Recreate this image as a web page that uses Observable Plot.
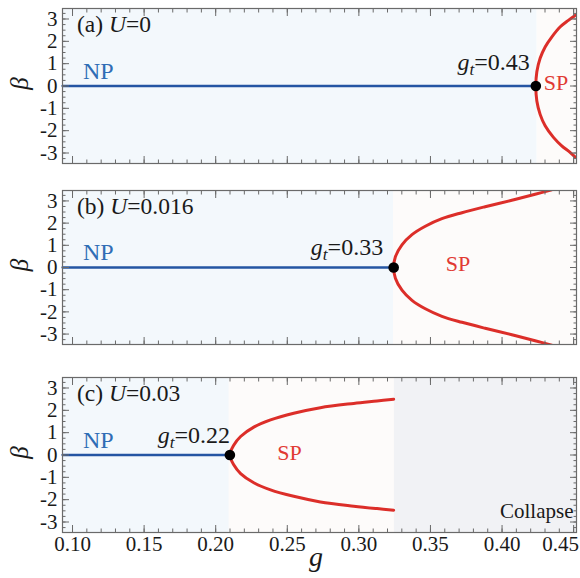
<!DOCTYPE html>
<html><head><meta charset="utf-8">
<script src="https://cdn.jsdelivr.net/npm/d3@7"></script>
<script src="https://cdn.jsdelivr.net/npm/@observablehq/plot@0.6"></script>
<style>
body{margin:0;background:#fff;}
#chart{position:relative;width:580px;height:578px;}
#chart svg{position:absolute;left:0;}
</style></head><body><div id="chart"></div>
<script>
// ---------- data ----------
const gDomain = [0.093, 0.452];
const betaDomain = [-3.47, 3.47];
const panelTags = ["(a)", "(b)", "(c)"];
const uValues = ["0", "0.016", "0.03"];
const gtText = ["0.43", "0.33", "0.22"];
const gtPoint = [0.4236, 0.3243, 0.2099];
const npEnd = [0.4245, 0.3243, 0.2095];
const collapseStart = 0.3248;

const xMajor = [0.10, 0.15, 0.20, 0.25, 0.30, 0.35, 0.40, 0.45];
const xMajorLabels = ["0.10", "0.15", "0.20", "0.25", "0.30", "0.35", "0.40", "0.45"];
const yMajor = [-3, -2, -1, 0, 1, 2, 3];
const yMajorLabels = ["-3", "-2", "-1", "0", "1", "2", "3"];

// SP branches (upper and lower)
const aUpperG = [0.4236, 0.4243, 0.4266, 0.4301, 0.4347, 0.4405, 0.4463, 0.4510];
const aUpperB = [0, 0.64, 1.24, 1.75, 2.19, 2.64, 2.94, 3.16];
const aLowerG = [0.4236, 0.4243, 0.4266, 0.4301, 0.4359, 0.4417, 0.4475, 0.4510];
const aLowerB = [0, -0.67, -1.27, -1.78, -2.30, -2.68, -2.97, -3.18];

const bUpperG = [0.3243, 0.3255, 0.3301, 0.3371, 0.3464, 0.3580, 0.3720, 0.3882, 0.4068, 0.4231, 0.4347];
const bUpperB = [0, 0.48, 1.02, 1.48, 1.86, 2.20, 2.47, 2.74, 3.03, 3.30, 3.50];
const bLowerG = [0.3243, 0.3255, 0.3301, 0.3371, 0.3464, 0.3580, 0.3720, 0.3882, 0.4068, 0.4231, 0.4347];
const bLowerB = [0, -0.48, -1.02, -1.48, -1.86, -2.20, -2.47, -2.74, -3.03, -3.30, -3.50];

const cUpperG = [0.2099, 0.2127, 0.2174, 0.2266, 0.2383, 0.2545, 0.2731, 0.2964, 0.3127, 0.3243];
const cUpperB = [0, 0.45, 0.83, 1.25, 1.57, 1.87, 2.12, 2.31, 2.42, 2.50];
const cLowerG = [0.2099, 0.2127, 0.2174, 0.2266, 0.2383, 0.2545, 0.2731, 0.2964, 0.3127, 0.3243];
const cLowerB = [0, -0.45, -0.83, -1.24, -1.56, -1.85, -2.10, -2.29, -2.40, -2.47];

// annotation anchors (data coordinates)
const gtLabelAt = [[0.4197, 0.71], [0.3173, 0.52], [0.2104, 0.53]];
const spLabelAt = [[0.4381, -0.21], [0.3696, -0.20], [0.2519, -0.26]];

// ---------- build ----------
const SERIF = "'Liberation Serif','Times New Roman','DejaVu Serif',serif";
const regionKinds = ["NP", "SP", "Collapse"];
const regionColors = ["#f3f8fc", "#fdfbfa", "#f1f2f5"];
const NP_LINE = "#2455a3", NP_TEXT = "#2f6db5", RED = "#dc2e29", RED_TEXT = "#e13a33";
const FRAME = "#6a6a6a";

function zip(gs, bs) { return gs.map((g, j) => ({g, beta: bs[j]})); }
const curves = [
  [...zip(aLowerG, aLowerB).reverse(), ...zip(aUpperG, aUpperB).slice(1)],
  [...zip(bLowerG, bLowerB).reverse(), ...zip(bUpperG, bUpperB).slice(1)],
  [...zip(cLowerG, cLowerB).reverse(), ...zip(cUpperG, cUpperB).slice(1)]
];
const regions = [
  [{x1: gDomain[0], x2: npEnd[0], kind: "NP"}, {x1: npEnd[0], x2: gDomain[1], kind: "SP"}],
  [{x1: gDomain[0], x2: npEnd[1], kind: "NP"}, {x1: npEnd[1], x2: gDomain[1], kind: "SP"}],
  [{x1: gDomain[0], x2: npEnd[2], kind: "NP"}, {x1: npEnd[2], x2: collapseStart, kind: "SP"},
   {x1: collapseStart, x2: gDomain[1], kind: "Collapse"}]
];

const xMinor = d3.range(10, 46).map(d => d / 100);
const yMinor = d3.range(-13, 14).map(d => d / 4);

const layout = [
  {top: 0, height: 172, marginTop: 8, marginBottom: 9},
  {top: 172, height: 180, marginTop: 18, marginBottom: 8},
  {top: 352, height: 226, marginTop: 25, marginBottom: 46}
];

const chart = document.getElementById("chart");

function txt(svg, x, y, parts, o = {}) {
  const size = o.size || 21;
  const t = d3.select(svg).append("text")
    .attr("x", x).attr("y", y)
    .attr("text-anchor", o.anchor || "start")
    .attr("font-family", SERIF).attr("font-size", size)
    .attr("fill", o.fill || "#1a1a1a");
  if (o.rotate) t.attr("transform", `rotate(${o.rotate},${x},${y})`);
  for (const p of parts) {
    const s = t.append("tspan").text(p.t);
    if (p.i) s.attr("font-style", "italic");
    if (p.sub) s.attr("font-size", size * 0.72).attr("dy", 5);
    if (p.unsub) s.attr("dy", -5);
  }
  return t;
}

layout.forEach((L, i) => {
  const showX = i === 2;
  const fmtY = d => yMajorLabels[yMajor.indexOf(d)];
  const fmtX = d => xMajorLabels[xMajor.indexOf(d)];
  const blank = () => "";
  const tickAxes = [];
  for (const anchor of ["bottom", "top"]) {
    tickAxes.push(Plot.axisX({anchor, ticks: xMinor, tickSize: -3.5, tickFormat: blank, stroke: FRAME, label: null}));
    tickAxes.push(Plot.axisX({anchor, ticks: xMajor, tickSize: -7, tickFormat: blank, stroke: FRAME, label: null}));
  }
  for (const anchor of ["left", "right"]) {
    tickAxes.push(Plot.axisY({anchor, ticks: yMinor, tickSize: -3.5, tickFormat: blank, stroke: FRAME, label: null}));
    tickAxes.push(Plot.axisY({anchor, ticks: yMajor, tickSize: -7, tickFormat: blank, stroke: FRAME, label: null}));
  }
  const svg = Plot.plot({
    width: 580, height: L.height,
    marginLeft: 62, marginRight: 4, marginTop: L.marginTop, marginBottom: L.marginBottom,
    style: {fontFamily: SERIF, fontSize: "21px", color: "#1a1a1a", background: "transparent", overflow: "visible"},
    x: {domain: gDomain},
    y: {domain: betaDomain},
    color: {domain: regionKinds, range: regionColors},
    marks: [
      Plot.rect(regions[i], {x1: "x1", x2: "x2", fill: "kind"}),
      Plot.line([{g: gDomain[0], beta: 0}, {g: gtPoint[i], beta: 0}], {x: "g", y: "beta", stroke: NP_LINE, strokeWidth: 2.3}),
      Plot.line(curves[i], {x: "g", y: "beta", stroke: RED, strokeWidth: 3, curve: "catmull-rom", clip: true, strokeLinecap: "round"}),
      Plot.dot([{g: gtPoint[i], beta: 0}], {x: "g", y: "beta", r: 5.3, fill: "black"}),
      ...tickAxes,
      Plot.axisY({anchor: "left", ticks: yMajor, tickSize: 0, tickPadding: 5, tickFormat: fmtY, label: null, fontSize: 21}),
      showX ? Plot.axisX({anchor: "bottom", ticks: xMajor.slice(0, -1), tickSize: 0, tickPadding: 4, tickFormat: fmtX, label: null, fontSize: 21}) : null,
      showX ? Plot.axisX({anchor: "bottom", ticks: xMajor.slice(-1), tickSize: 0, tickPadding: 4, tickFormat: fmtX, label: null, fontSize: 21, dx: -13}) : null,
      Plot.frame({stroke: FRAME, strokeWidth: 1.2})
    ]
  });
  svg.style.top = L.top + "px";
  chart.appendChild(svg);

  const xs = svg.scale("x"), ys = svg.scale("y");
  const X = v => xs.apply(v), Y = v => ys.apply(v);
  const left = X(gDomain[0]), right = X(gDomain[1]);
  const frameTop = L.marginTop;

  txt(svg, left + 15, frameTop + 23.5, [{t: panelTags[i] + " "}, {t: "U", i: true}, {t: "=" + uValues[i]}], {size: 23.5});
  txt(svg, left + 21, Y(0) - 7, [{t: "NP"}], {fill: NP_TEXT, size: 24});
  txt(svg, X(gtLabelAt[i][0]), Y(gtLabelAt[i][1]), [{t: "g", i: true}, {t: "t", i: true, sub: true}, {t: "=" + gtText[i], unsub: true}], {anchor: "end", size: 24});
  txt(svg, X(spLabelAt[i][0]), Y(spLabelAt[i][1]), [{t: "SP"}], {anchor: "middle", fill: RED_TEXT, size: 22});
  txt(svg, 28, Y(0) - 2, [{t: "β", i: true}], {anchor: "middle", rotate: -90, size: 25});
  if (i === 2) {
    txt(svg, right - 2.5, Y(-2.85), [{t: "Collapse"}], {anchor: "end", size: 21});
    // x-axis title, placed in this panel's local coordinates
    txt(svg, 316, L.height - 12, [{t: "g", i: true}], {anchor: "middle", size: 28});
  }
});
</script></body></html>
